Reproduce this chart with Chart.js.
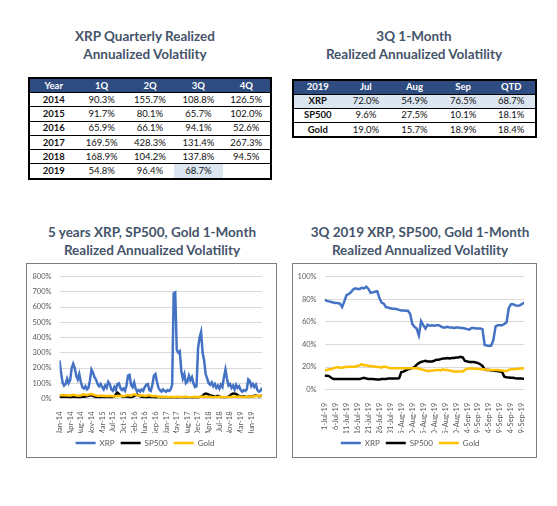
<!DOCTYPE html>
<html><head><meta charset="utf-8">
<script src="https://cdn.jsdelivr.net/npm/chart.js@4.4.0/dist/chart.umd.min.js"></script>
<style>
body{margin:0;background:#fff;width:557px;height:506px;position:relative;overflow:hidden;font-family:Lato,'DejaVu Sans',sans-serif;}
.title{position:absolute;text-align:center;font-weight:bold;color:#44546A;font-size:13.5px;line-height:18px;white-space:nowrap;}
table{position:absolute;border-collapse:collapse;border:2px solid #000;font-size:9.5px;table-layout:fixed;color:#111;}
td{text-align:center;padding:0;height:13.3px;border-top:1px solid #000;line-height:12px;}
th{background:#2f4c80;color:#fff;font-weight:bold;height:13px;padding:0;line-height:12px;}
td.b{font-weight:bold}
td.hl{background:#dce6f1}
tr.hl td{background:#dce6f1}
.box{position:absolute;border:1px solid #7f7f7f;box-sizing:border-box;}
.box div{position:absolute;left:0;top:0;}
</style></head><body>

<div class="title" style="left:20px;top:27px;width:250px;">XRP Quarterly Realized<br>Annualized Volatility</div>
<div class="title" style="left:289px;top:27px;width:250px;">3Q 1-Month<br>Realized Annualized Volatility</div>
<div class="title" style="left:27px;top:222.7px;width:250px;">5 years XRP, SP500, Gold 1-Month<br>Realized Annualized Volatility</div>
<div class="title" style="left:295px;top:222.7px;width:250px;">3Q 2019 XRP, SP500, Gold 1-Month<br>Realized Annualized Volatility</div>

<table id="t1" style="left:28px;top:77px;width:244px;"></table>
<table id="t2" style="left:292px;top:78.5px;width:245px;"></table>

<div class="box" style="left:26px;top:263px;width:251px;height:195px;"><div style="width:249px;height:193px;"><canvas id="c1"></canvas></div></div>
<div class="box" style="left:292px;top:263px;width:245px;height:195px;"><div style="width:243px;height:193px;"><canvas id="c2"></canvas></div></div>

<script>
// ---------- Table data ----------
const qHeaders = ['Year','1Q','2Q','3Q','4Q'];
const qYears = ['2014','2015','2016','2017','2018','2019'];
const q1 = ['90.3%','91.7%','65.9%','169.5%','168.9%','54.8%'];
const q2 = ['155.7%','80.1%','66.1%','428.3%','104.2%','96.4%'];
const q3 = ['108.8%','65.7%','94.1%','131.4%','137.8%','68.7%'];
const q4 = ['126.5%','102.0%','52.6%','267.3%','94.5%',''];

const mHeaders = ['2019','Jul','Aug','Sep','QTD'];
const mAssets = ['XRP','SP500','Gold'];
const mJul = ['72.0%','9.6%','19.0%'];
const mAug = ['54.9%','27.5%','15.7%'];
const mSep = ['76.5%','10.1%','18.9%'];
const mQTD = ['68.7%','18.1%','18.4%'];

// ---------- Chart 1 data (5 years, ~half-month steps; a tick label every 7 points) ----------
const xTickLabels1 = ['Jan-14','Apr-14','Aug-14','Nov-14','Mar-15','Jul-15','Oct-15','Feb-16','Jun-16','Sep-16','Jan-17','May-17','Aug-17','Dec-17','Apr-18','Jul-18','Nov-18','Mar-19','Jun-19'];
const xrp5y = [249,170,105,85,95,130,100,120,200,228,
200,150,125,160,110,75,65,80,60,70,
120,190,170,140,125,95,80,95,75,60,
85,70,110,95,60,50,75,55,95,100,
70,55,65,50,85,150,155,90,75,105,
65,45,55,45,60,50,75,90,95,55,
50,90,150,160,110,70,55,45,60,50,
45,55,50,60,90,690,696,320,300,310,
180,130,160,100,110,150,120,140,100,75,
80,330,400,437,300,250,160,130,100,90,
105,80,95,70,85,65,90,75,140,190,
130,85,95,70,85,60,90,70,80,55,
45,55,50,60,125,115,80,95,75,90,
55,45,50,70];
const sp5y = [12,11,10,12,13,11,10,9,10,12,
11,10,9,8,10,12,11,13,15,18,
20,22,17,13,11,10,9,8,9,10,
8,9,10,9,8,10,14,28,38,30,
18,14,12,15,13,11,10,9,12,16,
22,25,20,15,12,10,9,8,9,10,
11,9,8,7,8,9,7,6,7,6,
7,6,6,5,6,7,6,5,6,7,
6,7,6,5,6,7,6,5,6,7,
8,7,9,12,18,28,33,30,26,20,
18,15,12,14,17,13,10,9,8,9,
10,12,18,28,33,32,30,22,16,14,
12,13,11,10,12,16,14,13,18,20,
17,15,16,18];
const gold5y = [20,22,21,23,22,20,21,19,22,24,
22,20,18,19,20,25,27,24,22,26,
28,30,26,22,20,18,17,19,16,18,
17,15,18,16,17,15,14,16,15,17,
18,16,15,17,20,22,20,18,24,28,
25,22,20,18,21,19,17,18,20,22,
18,16,15,17,14,12,13,11,12,10,
11,10,9,10,11,9,10,12,11,10,
9,10,11,12,10,9,8,9,10,11,
10,9,11,12,13,12,11,10,12,11,
10,9,8,9,10,11,10,9,10,9,
8,9,10,11,12,11,10,12,13,11,
10,9,10,11,12,14,13,12,15,17,
18,19,17,18];

// ---------- Chart 2 data (3Q 2019, daily 1-Jul .. 30-Sep; a tick label every 5 days) ----------
const xTickLabels2 = ['1-Jul-19','6-Jul-19','11-Jul-19','16-Jul-19','21-Jul-19','26-Jul-19','31-Jul-19','5-Aug-19','10-Aug-19','15-Aug-19','20-Aug-19','25-Aug-19','30-Aug-19','4-Sep-19','9-Sep-19','14-Sep-19','19-Sep-19','24-Sep-19','29-Sep-19'];
const xrp3q = [79.5,78.5,78,77.5,77,76.5,76.5,76,73,78,
83.5,84.5,86,88.5,89.5,89,89,90,89.5,91,
89,85.5,86,86.5,87,81,77,76,73,72.5,
72,71.5,71.5,71,70.5,70,70,69.8,69.7,67,
58,55.5,54,48,60.5,57,54,57.5,56.5,57,
56.5,57,57,56,55,55,55.5,55,55,54.5,
55,55,54.5,54.5,54,53.5,53,54.5,54.5,54,
54,54,53.5,39.5,39,38.7,39,44,56,57,
57,57,58,59.5,72,75.5,75.5,74.5,74.2,74.5,
75.5,77];
const sp3q = [12.3,12.3,12,10.5,9.5,9.5,9.5,9.5,9.5,9.5,
9.5,9.5,9.5,9.5,9.5,9.5,9.5,10,10.5,9.8,
9.5,9.5,9.5,9.3,9,9,9.5,9.5,9.5,9.8,
10,10,10,10,10.2,15.5,16,17,18,18.5,
19,20,22,23.5,24.5,25,25.5,25,25,25,
25.5,26.5,26.5,27,27.5,27.5,28,27.5,28,28,
28.5,28.5,29,28.5,25.5,25,24.5,24.5,24.5,24,
23.5,22.5,21,18,17.5,17.5,17,17,16.5,16.5,
16,15.5,11.5,11,10.8,10.6,10.5,10.2,10,10,
9.8,9.7];
const gold3q = [17,17.5,18,18,19,19.5,20,19.5,19.5,20,
20,20,20.5,20,20.5,21,21.5,22.5,21.5,21.5,
21,21,20.5,20.5,20,20,19.5,20.5,20,19.5,
19,19,19,19,19,19,19,19,19,19,
19,19,19,18.5,18,17.5,17,16.5,16.5,17,
17,17.5,17.5,17,18,17.5,17.5,17,16.5,16,
16,16,16,16,17.5,18.5,18.5,19,18.5,18.5,
18.5,18,18,18,17.5,17.5,17.5,17.5,17.5,17.5,
17,17,16.5,16.5,17.5,18,18,18,18.5,18.5,
19,18.5];

const seriesNames = ['XRP','SP500','Gold'];
const seriesColors = ['#4472C4','#000000','#FFC000'];

// ---------- Build tables ----------
function buildTable(id, headers, firstCol, cols, hlRow, hlCell) {
  const t = document.getElementById(id);
  let h = '<tr>' + headers.map(x => '<th>' + x + '</th>').join('') + '</tr>';
  firstCol.forEach((name, r) => {
    h += '<tr' + (r === hlRow ? ' class="hl"' : '') + '><td class="b">' + name + '</td>';
    cols.forEach((c, ci) => {
      const hl = hlCell && hlCell[0] === r && hlCell[1] === ci;
      h += '<td' + (hl ? ' class="hl"' : '') + '>' + c[r] + '</td>';
    });
    h += '</tr>';
  });
  t.innerHTML = h;
}
buildTable('t1', qHeaders, qYears, [q1,q2,q3,q4], -1, [5,2]);
buildTable('t2', mHeaders, mAssets, [mJul,mAug,mSep,mQTD], 0, null);

// ---------- Charts ----------
const tickFont = {family: 'Lato', size: 7.5};
function makeChart(id, series, tickLabels, every, yMax, yStep, o) {
  const n = series[0].length;
  const datasets = series.map((d, i) => ({
    label: seriesNames[i], data: d.map((v, k) => ({x: k, y: v})),
    borderColor: seriesColors[i], backgroundColor: seriesColors[i],
    borderWidth: 2.5, pointRadius: 0, tension: 0, order: 2 - i
  }));
  return new Chart(document.getElementById(id), {
    type: 'line',
    data: {datasets},
    options: {
      responsive: true, maintainAspectRatio: false, animation: false,
      layout: {padding: {top: o.padT, right: o.padR, bottom: 0, left: 0}},
      plugins: {
        legend: {position: 'bottom', labels: {usePointStyle: true, pointStyle: 'line', pointStyleWidth: 20,
          padding: 6, color: '#595959', font: {family: 'Lato', size: 8},
          sort: (a, b) => a.datasetIndex - b.datasetIndex}},
        tooltip: {enabled: false}
      },
      scales: {
        x: {type: 'linear', min: 0, max: n - 1, grid: {display: false}, border: {display: false},
          ticks: {stepSize: every, includeBounds: false, autoSkip: false, maxRotation: 90, minRotation: 90, padding: o.xPad,
            color: '#595959', font: tickFont,
            callback: v => (v % every === 0 ? (tickLabels[v / every] || '') : '')},
          afterFit: s => { s.height = o.xH; }},
        y: {min: 0, max: yMax, grid: {color: '#d9d9d9', drawTicks: false}, border: {display: false},
          ticks: {stepSize: yStep, padding: 8, color: '#595959', font: tickFont, callback: v => v + '%'},
          afterFit: s => { s.width = o.yW; }}
      }
    }
  });
}

makeChart('c1', [xrp5y, sp5y, gold5y], xTickLabels1, 7, 800, 100, {yW: 32.5, padR: 13, padT: 9.5, xH: 34.5, xPad: 5});
makeChart('c2', [xrp3q, sp3q, gold3q], xTickLabels2, 5, 100, 10, {yW: 31.6, padR: 8.7, padT: 10, xH: 43.3, xPad: 5});
</script>
</body></html>
